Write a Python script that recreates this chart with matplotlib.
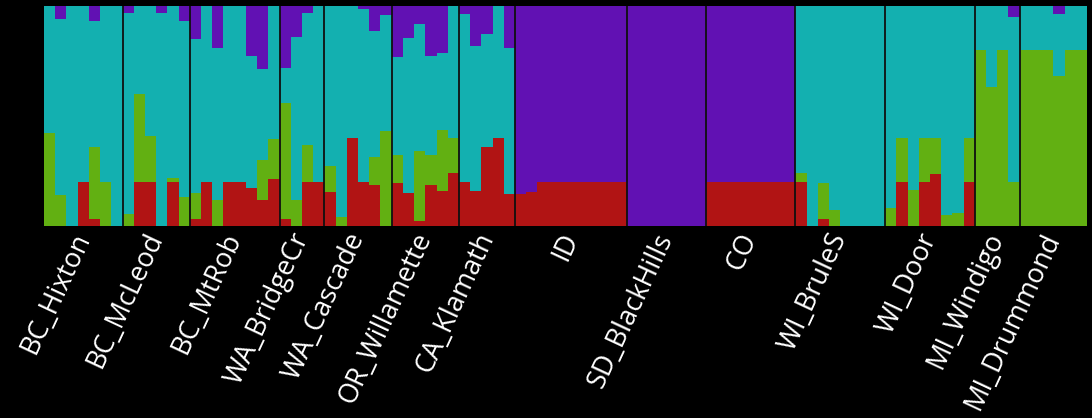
import matplotlib
matplotlib.use("Agg")
import matplotlib.pyplot as plt
import numpy as np

# populations in plotting order and number of individuals in each
pops = ["BC_Hixton", "BC_McLeod", "BC_MtRob", "WA_BridgeCr", "WA_Cascade",
        "OR_Willamette", "CA_Klamath", "ID", "SD_BlackHills", "CO",
        "WI_BruleS", "WI_Door", "MI_Windigo", "MI_Drummond"]
pop_sizes = [7, 6, 8, 4, 6, 6, 5, 10, 7, 8, 8, 8, 4, 6]

# ancestry proportions (K=4), one value per individual
q_red = [
    0, 0, 0, 0.20, 0.03, 0, 0,                      # BC_Hixton
    0, 0.20, 0.20, 0, 0.20, 0,                      # BC_McLeod
    0.03, 0.20, 0, 0.20, 0.20, 0.175, 0.12, 0.215,  # BC_MtRob
    0.03, 0, 0.20, 0.20,                            # WA_BridgeCr
    0.155, 0, 0.40, 0.20, 0.185, 0,                 # WA_Cascade
    0.195, 0.15, 0.025, 0.185, 0.16, 0.24,          # OR_Willamette
    0.20, 0.16, 0.36, 0.40, 0.145,                  # CA_Klamath
    0.145, 0.155, 0.20, 0.20, 0.20, 0.20, 0.20, 0.20, 0.20, 0.20,  # ID
    0, 0, 0, 0, 0, 0, 0,                            # SD_BlackHills
    0.20, 0.20, 0.20, 0.20, 0.20, 0.20, 0.20, 0.20, # CO
    0.20, 0, 0.03, 0, 0, 0, 0, 0,                   # WI_BruleS
    0, 0.20, 0, 0.20, 0.235, 0, 0, 0.20,            # WI_Door
    0, 0, 0, 0,                                     # MI_Windigo
    0, 0, 0, 0, 0, 0,                               # MI_Drummond
]
q_green = [
    0.425, 0.14, 0, 0, 0.33, 0.20, 0,
    0.055, 0.40, 0.21, 0, 0.02, 0.13,
    0.12, 0, 0.12, 0, 0, 0, 0.18, 0.18,
    0.53, 0.12, 0.17, 0,
    0.12, 0.04, 0, 0, 0.13, 0.43,
    0.13, 0, 0.315, 0.14, 0.275, 0.16,
    0, 0, 0, 0, 0,
    0, 0, 0, 0, 0, 0, 0, 0, 0, 0,
    0, 0, 0, 0, 0, 0, 0,
    0, 0, 0, 0, 0, 0, 0, 0,
    0.04, 0, 0.165, 0.075, 0, 0, 0, 0,
    0.08, 0.20, 0.165, 0.20, 0.165, 0.05, 0.06, 0.20,
    0.80, 0.63, 0.80, 0.20,
    0.80, 0.80, 0.80, 0.68, 0.80, 0.80,
]
q_cyan = [
    0.575, 0.80, 1.0, 0.80, 0.57, 0.80, 1.0,
    0.915, 0.40, 0.59, 0.97, 0.78, 0.80,
    0.70, 0.80, 0.69, 0.80, 0.80, 0.60, 0.415, 0.605,
    0.16, 0.74, 0.60, 0.80,
    0.725, 0.96, 0.60, 0.785, 0.57, 0.53,
    0.445, 0.705, 0.58, 0.45, 0.35, 0.60,
    0.765, 0.66, 0.515, 0.60, 0.665,
    0, 0, 0, 0, 0, 0, 0, 0, 0, 0,
    0, 0, 0, 0, 0, 0, 0,
    0, 0, 0, 0, 0, 0, 0, 0,
    0.76, 1.0, 0.805, 0.925, 1.0, 1.0, 1.0, 1.0,
    0.92, 0.60, 0.835, 0.60, 0.60, 0.95, 0.94, 0.60,
    0.20, 0.37, 0.20, 0.75,
    0.20, 0.20, 0.20, 0.285, 0.20, 0.20,
]
q_purple = [
    0, 0.06, 0, 0, 0.07, 0, 0,
    0.03, 0, 0, 0.03, 0, 0.07,
    0.15, 0, 0.19, 0, 0, 0.225, 0.285, 0,
    0.28, 0.14, 0.03, 0,
    0, 0, 0, 0.015, 0.115, 0.04,
    0.23, 0.145, 0.08, 0.225, 0.215, 0,
    0.035, 0.18, 0.125, 0, 0.19,
    0.855, 0.845, 0.80, 0.80, 0.80, 0.80, 0.80, 0.80, 0.80, 0.80,
    1.0, 1.0, 1.0, 1.0, 1.0, 1.0, 1.0,
    0.80, 0.80, 0.80, 0.80, 0.80, 0.80, 0.80, 0.80,
    0, 0, 0, 0, 0, 0, 0, 0,
    0, 0, 0, 0, 0, 0, 0, 0,
    0, 0, 0, 0.05,
    0, 0, 0, 0.035, 0, 0,
]

# stacking order bottom -> top
layers = [q_red, q_green, q_cyan, q_purple]
fills = ["#b11414", "#62b012", "#13b0b0", "#6111b3"]

plt.rcParams["font.family"] = ["Open Sans", "DejaVu Sans"]

fig = plt.figure(figsize=(10.92, 4.18), dpi=100, facecolor="black")
ax = fig.add_axes([44 / 1092, 1 - 226 / 418, (1087 - 44) / 1092, 220 / 418])
ax.set_facecolor("black")

n = len(q_red)
x = np.arange(n)
bottom = np.zeros(n)
for q, fc in zip(layers, fills):
    q = np.array(q, dtype=float)
    ax.bar(x, q, width=1.0, bottom=bottom, color=fc, linewidth=0,
           align="center")
    bottom += q

# population separators
ends = np.cumsum(pop_sizes)
for b in ends[:-1]:
    ax.axvline(b - 0.5, color="#101010", lw=1.3)

starts = ends - np.array(pop_sizes)
centers = (starts + ends) / 2 - 0.5

ax.set_xlim(-0.5, n - 0.5)
ax.set_ylim(0, 1)
ax.set_yticks([])
ax.set_xticks(centers)
ax.set_xticklabels(pops, rotation=65, ha="right", va="center",
                   rotation_mode="anchor", color="white", fontsize=19.5)
ax.tick_params(axis="x", length=0, pad=6)
for s in ax.spines.values():
    s.set_visible(False)

fig.savefig("out.png", dpi=100, facecolor="black")
